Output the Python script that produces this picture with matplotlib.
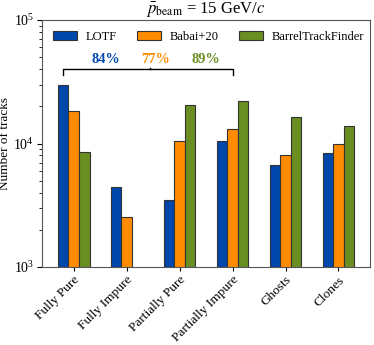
import matplotlib
matplotlib.use('Agg')
import matplotlib.pyplot as plt
import numpy as np

categories = ['Fully Pure', 'Fully Impure', 'Partially Pure', 'Partially Impure', 'Ghosts', 'Clones']
lotf = [29800, 4470, 3470, 10500, 6730, 8380]
babai = [18300, 2520, 10500, 13000, 8070, 9850]
btf = [8600, 0, 20500, 22100, 16300, 13900]
series_names = ['LOTF', 'Babai+20', 'BarrelTrackFinder']
efficiencies = ['84%', '77%', '89%']
colors = ['#0047ab', '#ff8c00', '#6b8e23']

plt.rcParams['font.family'] = ['Liberation Serif', 'DejaVu Serif']
plt.rcParams['mathtext.fontset'] = 'stix'

fig = plt.figure(figsize=(3.74, 3.45), dpi=100)
ax = fig.add_axes([0.112, 0.226, 0.878, 0.716])

x = np.arange(len(categories))
w = 0.2
for i, (vals, name, c) in enumerate(zip([lotf, babai, btf], series_names, colors)):
    v = np.array(vals, dtype=float)
    v[v <= 0] = np.nan
    ax.bar(x + (i - 1) * w, v, w, color=c, edgecolor='#333333', linewidth=0.8, label=name)

ax.set_yscale('log')
ax.set_ylim(1e3, 1e5)
ax.set_xlim(-0.6, 5.6)
ax.set_xticks(x)
ax.set_xticklabels(categories, rotation=45, ha='right', rotation_mode='anchor', fontsize=9.6)
ax.tick_params(axis='y', labelsize=10, pad=2)
ax.tick_params(axis='x', length=3, pad=2)
ax.set_ylabel('Number of tracks', fontsize=9.5, labelpad=2)
ax.set_title(r'$\bar{p}_\mathrm{beam}$ = 15 GeV/$c$', fontsize=12, pad=3)
for s in ax.spines.values():
    s.set_color('#555555')

ax.legend(loc='upper left', ncol=3, frameon=False, fontsize=9.0,
          handlelength=1.95, handleheight=0.75, handletextpad=0.7, columnspacing=1.6,
          bbox_to_anchor=(0.0, 1.0), borderaxespad=0.45)

# bracket over the first four categories
by = 40000
ax.plot([-0.2, -0.2, 3.0, 3.0], [by * 0.9, by, by, by * 0.9], color='black', lw=1.0)
ax.plot([1.45, 1.45], [by, by * 1.03], color='black', lw=1.0)
for i, (t, c) in enumerate(zip(efficiencies, colors)):
    ax.text(0.6 + i * 0.95, by * 1.06, t, color=c, fontsize=10.3, fontweight='bold',
            ha='center', va='bottom')

fig.savefig('out.png', dpi=100)
